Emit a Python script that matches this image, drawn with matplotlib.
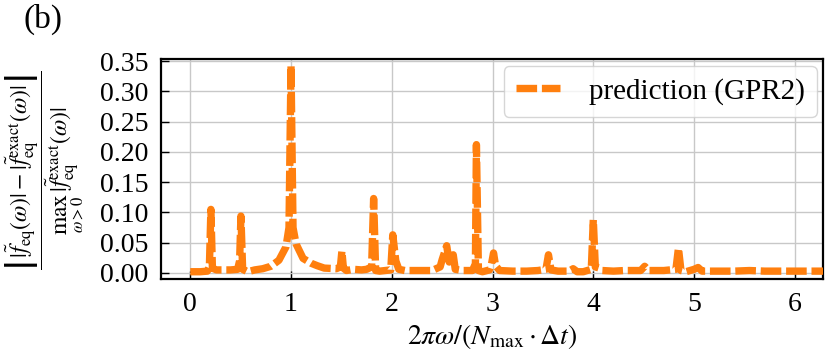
import numpy as np
import matplotlib
matplotlib.use("Agg")
import matplotlib.pyplot as plt

plt.rcParams['font.family'] = ['Liberation Serif', 'DejaVu Serif']
plt.rcParams['mathtext.fontset'] = 'stix'

# frequency 2*pi*omega/(N_max*dt)
freq = [0.00, 0.10, 0.17, 0.19, 0.205, 0.22, 0.26, 0.40, 0.47, 0.49, 0.503, 0.52,
        0.57, 0.64, 0.72, 0.80, 0.88, 0.95, 0.98, 1.00, 1.02, 1.05, 1.12, 1.20,
        1.26, 1.33, 1.45, 1.49, 1.505, 1.52, 1.55, 1.62, 1.70, 1.75, 1.80, 1.82,
        1.84, 1.88, 1.99, 2.01, 2.04, 2.07, 2.13, 2.25, 2.40, 2.48, 2.50, 2.545,
        2.57, 2.61, 2.63, 2.70, 2.80, 2.83, 2.84, 2.86, 2.90, 2.97, 2.99, 3.01,
        3.03, 3.07, 3.20, 3.34, 3.45, 3.53, 3.555, 3.58, 3.65, 3.76, 3.80, 3.84,
        3.90, 3.98, 4.00, 4.02, 4.06, 4.09, 4.20, 4.31, 4.47, 4.51, 4.55, 4.70,
        4.82, 4.845, 4.87, 4.92, 5.00, 5.04, 5.08, 5.20, 5.40, 5.55, 5.70, 5.90,
        6.10, 6.283]
# relative error of predicted spectrum (GPR2)
error = [0.002, 0.002, 0.003, 0.010, 0.105, 0.008, 0.005, 0.005, 0.006, 0.020, 0.094, 0.006,
         0.002, 0.005, 0.007, 0.011, 0.021, 0.043, 0.075, 0.343, 0.075, 0.048, 0.024, 0.016,
         0.012, 0.008, 0.007, 0.010, 0.036, 0.008, 0.004, 0.006, 0.005, 0.006, 0.010, 0.123,
         0.004, 0.003, 0.005, 0.063, 0.020, 0.006, 0.004, 0.004, 0.004, 0.010, 0.022, 0.045,
         0.018, 0.030, 0.006, 0.004, 0.004, 0.015, 0.212, 0.004, 0.002, 0.005, 0.015, 0.033,
         0.012, 0.004, 0.003, 0.003, 0.004, 0.006, 0.030, 0.005, 0.003, 0.003, 0.007, 0.002,
         0.002, 0.006, 0.088, 0.010, 0.008, 0.004, 0.003, 0.004, 0.004, 0.011, 0.004, 0.004,
         0.006, 0.041, 0.004, 0.002, 0.006, 0.009, 0.003, 0.003, 0.003, 0.004, 0.003, 0.003,
         0.003, 0.003]

xticks = [0, 1, 2, 3, 4, 5, 6]
yticks = [0.00, 0.05, 0.10, 0.15, 0.20, 0.25, 0.30, 0.35]

fig = plt.figure(figsize=(8.30, 3.58), dpi=100)
ax = fig.add_axes([0.194, 0.220, 0.798, 0.614])

ax.plot(freq, error, color='#ff7f0e', lw=5.3, dashes=(2.8, 0.65),
        label='prediction (GPR2)', zorder=3)

ax.set_xlim(-0.29, 2 * np.pi)
ax.set_ylim(-0.0104, 0.3528)
ax.set_xticks(xticks)
ax.set_yticks(yticks)
ax.set_yticklabels([f'{v:.2f}' for v in yticks])
ax.grid(True, color='#c8c8c8', lw=1.0)
ax.set_axisbelow(True)
ax.tick_params(direction='in', length=6, width=1.0, labelsize=20, pad=9)
for s in ax.spines.values():
    s.set_linewidth(1.6)

ax.set_xlabel(r'$2\pi\omega/(N_{\max}\cdot\Delta t)$', fontsize=20, labelpad=4)
ylab = (r'$\dfrac{\left|\,|\tilde{f}_{\mathrm{eq}}(\omega)| - '
        r'|\tilde{f}^{\mathrm{exact}}_{\mathrm{eq}}(\omega)|\,\right|}'
        r'{\underset{\omega>0}{\mathrm{max}}\,|\tilde{f}^{\mathrm{exact}}_{\mathrm{eq}}(\omega)|}$')
fig.text(0.054, 0.525, ylab, rotation=90, fontsize=17, ha='center', va='center')

fig.text(0.028, 0.9455, '(b)', fontsize=24, ha='left', va='center')

leg = ax.legend(loc='upper right', fontsize=21, handlelength=1.5,
                handletextpad=1.0, borderpad=0.42, borderaxespad=0.22,
                fancybox=True, framealpha=0.8)

fig.savefig('out.png', dpi=100)
